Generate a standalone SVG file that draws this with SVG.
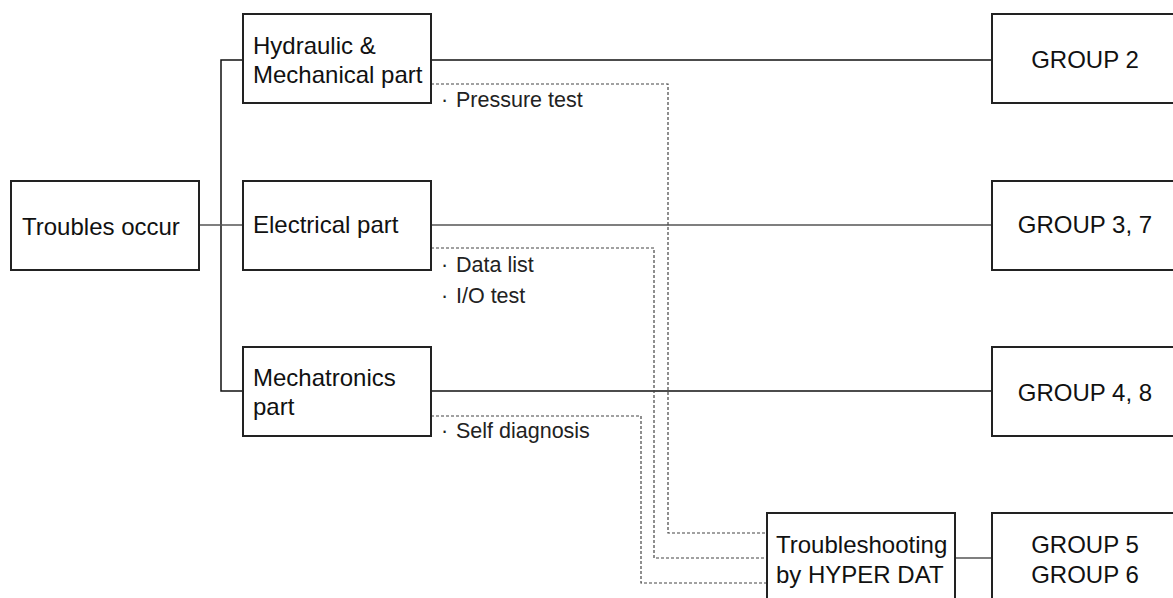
<svg xmlns="http://www.w3.org/2000/svg" width="1173" height="598" viewBox="0 0 1173 598">
<style>
.box{fill:#fff;stroke:#222;stroke-width:2}
.ln{fill:none;stroke:#111;stroke-width:1.5}
.lg{fill:none;stroke:#555;stroke-width:1.5}
.dl{fill:none;stroke:#444;stroke-width:1.2;stroke-dasharray:3 2}
.t{font-family:"Liberation Sans",Arial,sans-serif;font-size:24px;fill:#111}
.s{font-family:"Liberation Sans",Arial,sans-serif;font-size:21.5px;fill:#222}
.c{text-anchor:middle}
</style>
<rect width="1173" height="598" fill="#fff"/>
<g id="connectors">
<polyline class="ln" points="243,60 221,60 221,391 243,391"/>
<line class="lg" x1="199" y1="225" x2="243" y2="225"/>
<line class="ln" x1="431" y1="60" x2="992" y2="60"/>
<line class="lg" x1="431" y1="225" x2="992" y2="225"/>
<line class="ln" x1="431" y1="391" x2="992" y2="391"/>
<line class="lg" x1="955" y1="558" x2="992" y2="558"/>
<polyline class="dl" points="431,84 668,84 668,533 767,533"/>
<polyline class="dl" points="431,248 654,248 654,558 767,558"/>
<polyline class="dl" points="431,416 641,416 641,583 767,583"/>
</g>
<g id="labels">
<text class="s" x="441" y="107">·<tspan x="456">Pressure test</tspan></text>
<text class="s" x="441" y="272">·<tspan x="456">Data list</tspan></text>
<text class="s" x="441" y="303">·<tspan x="456">I/O test</tspan></text>
<text class="s" x="441" y="438">·<tspan x="456">Self diagnosis</tspan></text>
</g>
<g id="troubles">
<rect class="box" x="11" y="181" width="188" height="89"/>
<text class="t" x="22" y="235">Troubles occur</text>
</g>
<g id="hydraulic">
<rect class="box" x="243" y="14" width="188" height="89"/>
<text class="t" x="253" y="54">Hydraulic &amp;</text>
<text class="t" x="253" y="83">Mechanical part</text>
</g>
<g id="electrical">
<rect class="box" x="243" y="181" width="188" height="89"/>
<text class="t" x="253" y="233">Electrical part</text>
</g>
<g id="mechatronics">
<rect class="box" x="243" y="347" width="188" height="89"/>
<text class="t" x="253" y="386">Mechatronics</text>
<text class="t" x="253" y="415">part</text>
</g>
<g id="group2">
<rect class="box" x="992" y="14" width="200" height="89"/>
<text class="t c" x="1085" y="68">GROUP 2</text>
</g>
<g id="group37">
<rect class="box" x="992" y="181" width="200" height="89"/>
<text class="t c" x="1085" y="233">GROUP 3, 7</text>
</g>
<g id="group48">
<rect class="box" x="992" y="347" width="200" height="89"/>
<text class="t c" x="1085" y="401">GROUP 4, 8</text>
</g>
<g id="hyperdat">
<rect class="box" x="767" y="513" width="188" height="100"/>
<text class="t" x="776" y="553">Troubleshooting</text>
<text class="t" x="776" y="583">by HYPER DAT</text>
</g>
<g id="group56">
<rect class="box" x="992" y="513" width="200" height="100"/>
<text class="t c" x="1085" y="553">GROUP 5</text>
<text class="t c" x="1085" y="583">GROUP 6</text>
</g>
</svg>
